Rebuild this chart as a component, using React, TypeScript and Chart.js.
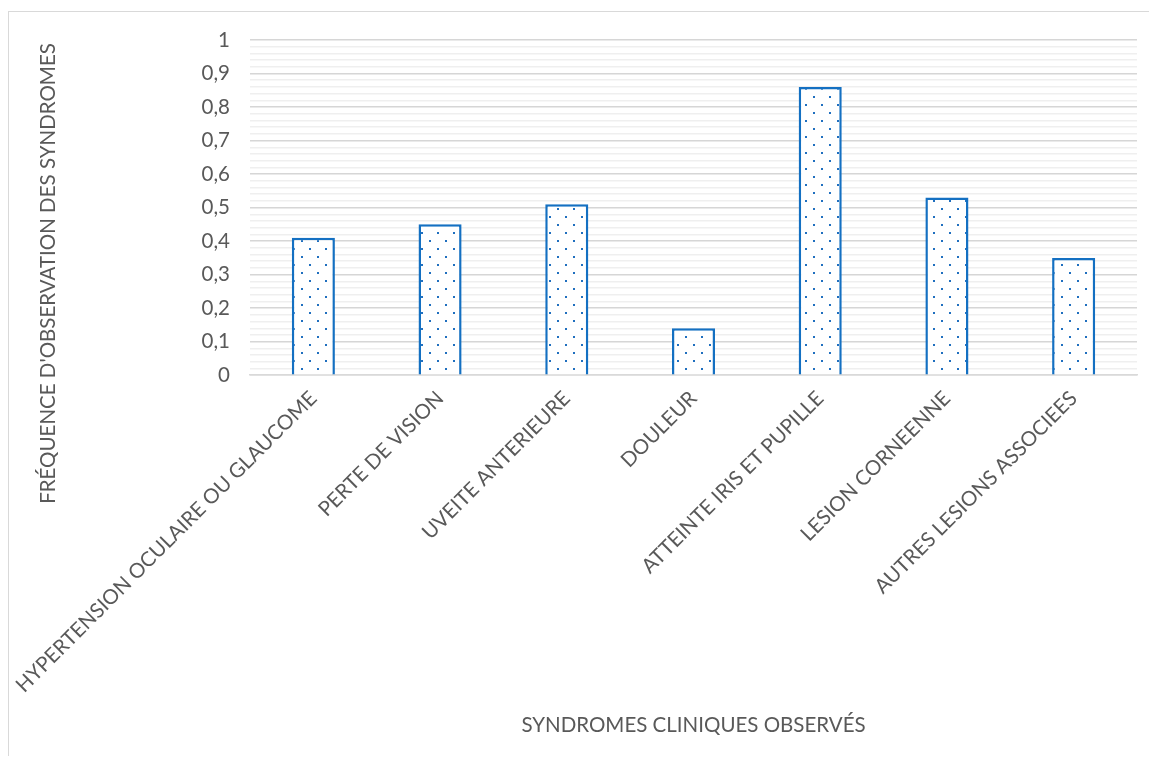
import React, { useEffect, useRef } from "react";
import { Chart, registerables } from "chart.js";

Chart.register(...registerables);

const categories = [
  "HYPERTENSION OCULAIRE OU GLAUCOME",
  "PERTE DE VISION",
  "UVEITE ANTERIEURE",
  "DOULEUR",
  "ATTEINTE IRIS ET PUPILLE",
  "LESION CORNEENNE",
  "AUTRES LESIONS ASSOCIEES",
];
const frequencies = [0.41, 0.45, 0.51, 0.14, 0.86, 0.53, 0.35];
const yTitle = "FRÉQUENCE D'OBSERVATION DES SYNDROMES";
const xTitle = "SYNDROMES CLINIQUES OBSERVÉS";

const FONT = "Lato, 'Open Sans', sans-serif";
const FS = 20.5;
const TEXT = "#595959";
const BLUE = "#1470c2";

function makePattern(): CanvasPattern | string {
  const c = document.createElement("canvas");
  c.width = 16;
  c.height = 16;
  const g = c.getContext("2d");
  if (!g) return "#ffffff";
  g.fillStyle = "#ffffff";
  g.fillRect(0, 0, 16, 16);
  g.fillStyle = "#1f6fbf";
  g.fillRect(4, 4, 2, 2);
  g.fillRect(12, 12, 2, 2);
  const p = g.createPattern(c, "repeat");
  return p || "#ffffff";
}

const yTitlePlugin = {
  id: "yTitlePlugin",
  afterDraw(chart: any) {
    const ctx = chart.ctx;
    ctx.save();
    ctx.translate(39, 261.5);
    ctx.rotate(-Math.PI / 2);
    ctx.font = `${FS}px ${FONT}`;
    ctx.fillStyle = TEXT;
    ctx.textAlign = "center";
    ctx.textBaseline = "middle";
    ctx.fillText(yTitle, 0, 0);
    ctx.restore();
  },
};

function fmt(v: number): string {
  const r = Math.round(v * 10) / 10;
  if (r === 0) return "0";
  if (r === 1) return "1";
  return r.toFixed(1).replace(".", ",");
}

function zeroPad(s: any) {
  s.paddingLeft = 0;
  s.paddingRight = 0;
  s.paddingTop = 0;
  s.paddingBottom = 0;
}

export default function App() {
  const ref = useRef<HTMLCanvasElement | null>(null);

  useEffect(() => {
    if (!ref.current) return;
    const chart = new Chart(ref.current, {
      type: "bar",
      data: {
        labels: categories,
        datasets: [
          {
            data: frequencies,
            backgroundColor: makePattern() as any,
            borderColor: BLUE,
            borderWidth: 2.5,
            barPercentage: 0.34,
            categoryPercentage: 1,
          },
        ],
      },
      options: {
        animation: false,
        responsive: false,
        maintainAspectRatio: false,
        devicePixelRatio: 1,
        layout: { padding: { left: 0, top: 28, right: 20, bottom: 21 } },
        plugins: {
          legend: { display: false },
          tooltip: { enabled: false },
        },
        scales: {
          x: {
            grid: { display: false, drawTicks: false },
            border: { display: true, color: "#d9d9d9", width: 1.5 },
            ticks: {
              color: TEXT,
              font: { family: FONT, size: FS },
              minRotation: 45,
              maxRotation: 45,
              autoSkip: false,
              padding: 11,
            },
            title: {
              display: true,
              text: xTitle,
              color: TEXT,
              font: { family: FONT, size: FS },
              padding: { top: 0, bottom: 0 },
            },
            afterFit: (s: any) => {
              s.height = 362.8;
              zeroPad(s);
            },
          },
          y: {
            min: 0,
            max: 1,
            grid: {
              drawTicks: false,
              color: (c: any) => {
                const v = c.tick ? c.tick.value : 0;
                const major = Math.abs(v * 10 - Math.round(v * 10)) < 1e-6;
                return major ? "#d6d6d6" : "#efefef";
              },
              lineWidth: 1.5,
            },
            border: { display: false },
            ticks: {
              stepSize: 0.02,
              autoSkip: false,
              color: TEXT,
              font: { family: FONT, size: FS },
              padding: 20,
              callback: (v: any) => {
                const n = Number(v);
                const major = Math.abs(n * 10 - Math.round(n * 10)) < 1e-6;
                return major ? fmt(n) : "";
              },
            },
            afterFit: (s: any) => {
              s.width = 241;
              zeroPad(s);
            },
          },
        },
      },
      plugins: [yTitlePlugin],
    });
    return () => chart.destroy();
  }, []);

  return (
    <div
      style={{
        position: "relative",
        top: 3,
        width: 1149,
        height: 748,
        borderTop: "1px solid #d9d9d9",
        borderLeft: "1px solid #d9d9d9",
        boxSizing: "border-box",
        background: "#fff",
      }}
    >
      <canvas ref={ref} width={1148} height={747} style={{ display: "block" }} />
    </div>
  );
}
